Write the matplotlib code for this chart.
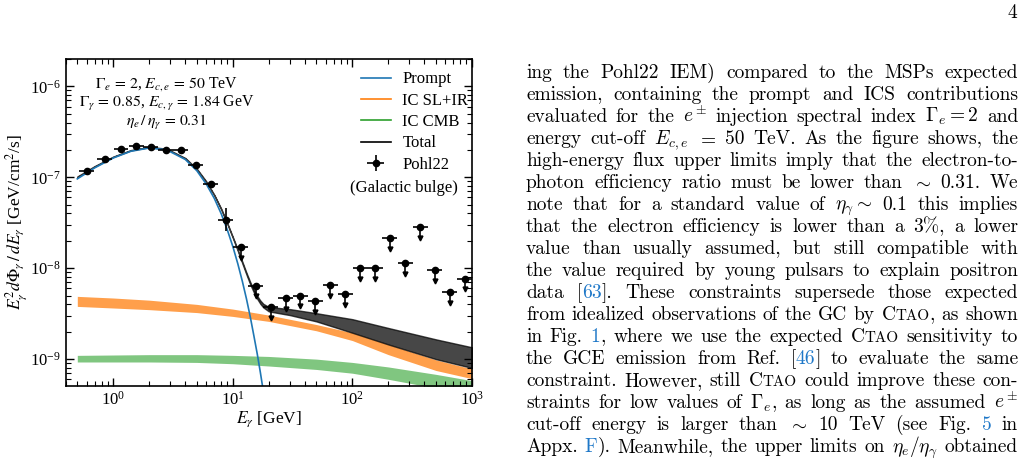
import re
import numpy as np
import matplotlib.pyplot as plt
from matplotlib.lines import Line2D

plt.rcParams['font.family'] = 'Liberation Serif'
plt.rcParams['mathtext.fontset'] = 'stix'

# ---- Pohl22 (Galactic bulge) data points ----
pohl_E = [0.60, 0.85, 1.16, 1.55, 2.06, 2.75, 3.67, 4.90, 6.55, 8.69,
          11.6, 15.5, 20.7, 27.6, 36.6, 48.9, 65.2, 87.1, 116, 155,
          206, 277, 369, 490, 654, 869]
pohl_F = [1.17e-7, 1.58e-7, 2.06e-7, 2.19e-7, 2.16e-7, 2.01e-7, 1.98e-7, 1.35e-7, 8.45e-8, 3.43e-8,
          1.72e-8, 6.45e-9, 3.7e-9, 4.65e-9, 5.0e-9, 4.31e-9, 6.6e-9, 5.25e-9, 9.93e-9, 9.93e-9,
          2.17e-8, 1.15e-8, 2.82e-8, 9.44e-9, 5.5e-9, 7.7e-9]
pohl_err_lo = [4e-9, 5e-9, 6e-9, 6e-9, 6e-9, 6e-9, 6e-9, 5e-9, 4e-9, 8.8e-9]
pohl_err_hi = [4e-9, 5e-9, 6e-9, 6e-9, 6e-9, 6e-9, 6e-9, 5e-9, 4e-9, 1.2e-8]
n_detected = 10   # the rest are upper limits

# ---- model curves ----
prompt_E = [0.5, 0.7, 1, 1.4, 2, 2.8, 4, 5, 6, 7, 8, 9, 10, 11, 12, 13, 14, 15, 16, 17, 18, 19]
prompt_F = [9.6e-8, 1.27e-7, 1.63e-7, 1.93e-7, 2.10e-7, 2.0e-7, 1.57e-7, 1.18e-7, 8.4e-8, 5.85e-8,
            3.96e-8, 2.63e-8, 1.73e-8, 1.12e-8, 7.2e-9, 4.6e-9, 2.9e-9, 1.8e-9, 1.14e-9, 7.1e-10,
            4.4e-10, 2.8e-10]

band_E = [0.5, 1, 2, 5, 10, 20, 50, 100, 200, 500, 1000]
slir_lo = [3.8e-9, 3.65e-9, 3.5e-9, 3.25e-9, 2.95e-9, 2.6e-9, 2.05e-9, 1.6e-9, 1.12e-9, 0.75e-9, 0.61e-9]
slir_hi = [4.9e-9, 4.7e-9, 4.45e-9, 4.0e-9, 3.55e-9, 3.05e-9, 2.4e-9, 1.95e-9, 1.45e-9, 0.98e-9, 0.78e-9]
cmb_lo = [0.93e-9, 0.93e-9, 0.93e-9, 0.92e-9, 0.89e-9, 0.84e-9, 0.77e-9, 0.70e-9, 0.60e-9, 0.48e-9, 0.40e-9]
cmb_hi = [1.10e-9, 1.11e-9, 1.12e-9, 1.12e-9, 1.10e-9, 1.07e-9, 1.0e-9, 0.92e-9, 0.82e-9, 0.68e-9, 0.58e-9]

total_E = [0.5, 0.7, 1, 1.4, 2, 2.8, 4, 5, 6, 7, 8, 9, 10, 11, 12, 13, 14, 15, 16, 17, 18,
           20, 30, 50, 100, 200, 500, 1000]
total_lo = [1.00e-7, 1.31e-7, 1.67e-7, 1.97e-7, 2.14e-7, 2.04e-7, 1.61e-7, 1.22e-7, 8.8e-8, 6.3e-8,
            4.4e-8, 3.05e-8, 2.15e-8, 1.55e-8, 1.13e-8, 8.5e-9, 6.6e-9, 5.4e-9, 4.6e-9, 4.05e-9,
            3.7e-9, 3.35e-9, 3.05e-9, 2.6e-9, 1.95e-9, 1.45e-9, 1.0e-9, 0.8e-9]
total_hi = [1.02e-7, 1.33e-7, 1.69e-7, 1.99e-7, 2.16e-7, 2.06e-7, 1.63e-7, 1.24e-7, 9.0e-8, 6.4e-8,
            4.5e-8, 3.12e-8, 2.2e-8, 1.6e-8, 1.18e-8, 8.9e-9, 7.0e-9, 5.8e-9, 4.95e-9, 4.4e-9,
            4.05e-9, 3.75e-9, 3.55e-9, 3.2e-9, 2.75e-9, 2.2e-9, 1.65e-9, 1.35e-9]

legend_labels = ['Prompt', 'IC SL+IR', 'IC CMB', 'Total', 'Pohl22']

fig = plt.figure(figsize=(10.22, 4.61), dpi=100)
ax = fig.add_axes([0.0643, 0.1633, 0.3975, 0.7088])

ax.fill_between(band_E, slir_lo, slir_hi, color='tab:orange', alpha=0.75, lw=0)
ax.fill_between(band_E, cmb_lo, cmb_hi, color='tab:green', alpha=0.6, lw=0)
ax.plot(prompt_E, prompt_F, color='tab:blue', lw=1.2)
ax.fill_between(total_E, total_lo, total_hi, color='k', alpha=0.72, lw=1.0)

E = np.array(pohl_E)
F = np.array(pohl_F)
half = 10 ** 0.0625
xerr = [E - E / half, E * half - E]
d = slice(0, n_detected)
u = slice(n_detected, None)
ax.errorbar(E[d], F[d], xerr=[xerr[0][d], xerr[1][d]], yerr=[pohl_err_lo, pohl_err_hi],
            fmt='o', color='k', ms=4.5, lw=1.2, capsize=0)
arrow = 10 ** -0.12
ax.errorbar(E[u], F[u], xerr=[xerr[0][u], xerr[1][u]], yerr=[F[u] * (1 - arrow), 0 * F[u]],
            fmt='o', color='k', ms=4.5, lw=1.2, capsize=0)
ax.plot(E[u], F[u] * arrow, 'v', color='k', ms=3.5)

ax.set_xscale('log')
ax.set_yscale('log')
ax.set_xlim(0.4, 1000)
ax.set_ylim(5.1e-10, 2e-6)
ax.tick_params(which='both', direction='in', top=True, right=True, labelsize=12)
ax.tick_params(which='major', length=6, width=1)
ax.tick_params(which='minor', length=3.5, width=0.8)
for s in ax.spines.values():
    s.set_linewidth(1.2)
ax.set_xlabel(r'$E_\gamma$ [GeV]', fontsize=12.5, labelpad=1)
ax.set_ylabel(r'$E_\gamma^2 d\Phi_\gamma\,/\,dE_\gamma$ [GeV/cm$^2$/s]', fontsize=12.5, labelpad=1)

ax.text(0.249, 0.9235, r'$\Gamma_e\,=\,2$, $E_{c,e}\,=\,50$ TeV', transform=ax.transAxes,
        ha='center', va='center', fontsize=11.3)
ax.text(0.249, 0.865, r'$\Gamma_\gamma\,=\,0.85$, $E_{c,\gamma}\,=\,1.84$ GeV', transform=ax.transAxes,
        ha='center', va='center', fontsize=11.3)
ax.text(0.249, 0.807, r'$\eta_e\,/\,\eta_\gamma\,=\,0.31$', transform=ax.transAxes,
        ha='center', va='center', fontsize=11.3)

handles = [Line2D([], [], color='tab:blue', lw=1.2),
           Line2D([], [], color='tab:orange', lw=1.2),
           Line2D([], [], color='tab:green', lw=1.2),
           Line2D([], [], color='k', lw=1.2),
           ax.errorbar([], [], xerr=[], yerr=[], fmt='o', color='k', ms=4.5, lw=1.2)]
ax.legend(handles, legend_labels, loc='upper left', bbox_to_anchor=(0.726, 0.962),
          frameon=False, fontsize=12, handlelength=1.8, handletextpad=0.7,
          borderpad=0, borderaxespad=0, labelspacing=0.32)
ax.text(0.9655, 0.6045, '(Galactic bulge)', transform=ax.transAxes, ha='right', va='center',
        fontsize=12)

# ---- right column text of the page ----
page_lines = [
    r'ing the Pohl22 IEM) compared to the MSPs expected',
    r'emission, containing the prompt and ICS contributions',
    r'evaluated for the $e^\pm$ injection spectral index $\Gamma_e = 2$ and',
    r'energy cut-off $E_{c,e}$ $=$ 50 TeV. As the figure shows, the',
    r'high-energy flux upper limits imply that the electron-to-',
    r'photon efficiency ratio must be lower than $\sim$ 0.31. We',
    r'note that for a standard value of $\eta_\gamma \sim$ 0.1 this implies',
    r'that the electron efficiency is lower than a 3%, a lower',
    r'value than usually assumed, but still compatible with',
    r'the value required by young pulsars to explain positron',
    r'data [{63}]. These constraints supersede those expected',
    r'from idealized observations of the GC by CTAO, as shown',
    r'in Fig. {1}, where we use the expected CTAO sensitivity to',
    r'the GCE emission from Ref. [{46}] to evaluate the same',
    r'constraint. However, still CTAO could improve these con-',
    r'straints for low values of $\Gamma_e$, as long as the assumed $e^\pm$',
    r'cut-off energy is larger than $\sim$ 10 TeV (see Fig. {5} in',
    r'Appx. {F}). Meanwhile, the upper limits on $\eta_e/\eta_\gamma$ obtained',
]

W, H = 1022, 461
FS = 14.0
LINK = '#1f78c8'
renderer = fig.canvas.get_renderer()


def seg_text(s, color, size):
    return fig.text(0.5, 0.5, s, fontsize=size, color=color, family='cmr10',
                    math_fontfamily='cm', va='baseline', ha='left')


def put_line(line, y_base, x0=526, x1=1018):
    words = re.findall(r'(?:\$[^$]*\$|[^\s$])+', line)
    built = []
    for w in words:
        segs = []
        for part in re.split(r'(\$[^$]*\$|\{[^}]*\}|CTAO)', w):
            if not part:
                continue
            if part.startswith('{'):
                segs.append(seg_text(part[1:-1], LINK, FS))
            elif part == 'CTAO':
                segs.append(seg_text('C', 'k', FS))
                segs.append(seg_text('TAO', 'k', FS * 0.78))
            else:
                segs.append(seg_text(part, 'k', FS))
        widths = [t.get_window_extent(renderer).width for t in segs]
        built.append((segs, widths))
    total = sum(sum(ws) for _, ws in built)
    gap = (x1 - x0 - total) / max(len(built) - 1, 1)
    x = x0
    for segs, ws in built:
        for t, wd in zip(segs, ws):
            t.set_position((x / W, 1 - y_base / H))
            x += wd
        x += gap


for i, line in enumerate(page_lines):
    put_line(line, 77.5 + 22.05 * i)

fig.text(1017 / W, 1 - 18 / H, '4', fontsize=FS, family='cmr10', ha='right', va='baseline')

fig.savefig('out.png', dpi=100)
